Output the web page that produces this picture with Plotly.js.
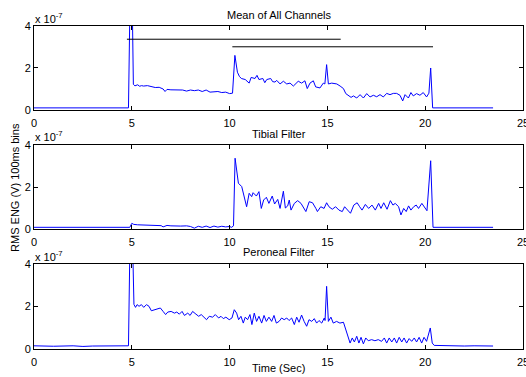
<!DOCTYPE html>
<html>
<head>
<meta charset="utf-8">
<script src="https://cdn.plot.ly/plotly-3.0.1.min.js"></script>
<style>html,body{margin:0;padding:0;background:#fff;}#chart{width:526px;height:377px;}</style>
</head>
<body>
<div id="chart"></div>
<script>
// Values in units of 1e-7 V (axis shows "x 10^-7")
var xTicks = [0, 5, 10, 15, 20, 25];
var yTicks = [0, 2, 4];

var tMean = [0, 4.83, 4.9, 4.95, 5.03, 5.08, 5.16, 5.3, 5.4, 5.5, 5.6, 5.8, 6.0, 6.2, 6.4, 6.5, 6.6, 6.7, 6.8, 7.0, 7.2, 7.4, 7.6, 7.8, 8.0, 8.2, 8.4, 8.6, 8.8, 9.0, 9.2, 9.4, 9.6, 9.8, 10.0, 10.15, 10.27, 10.4, 10.5, 10.6, 10.8, 10.9, 11.0, 11.1, 11.3, 11.4, 11.5, 11.7, 11.8, 11.9, 12.1, 12.2, 12.32, 12.41, 12.58, 12.75, 12.92, 13.09, 13.26, 13.51, 13.68, 13.85, 13.97, 14.11, 14.28, 14.4, 14.62, 14.79, 14.87, 14.96, 15.05, 15.22, 15.48, 15.65, 15.82, 15.94, 16.08, 16.21, 16.33, 16.5, 16.67, 16.84, 17.01, 17.18, 17.35, 17.52, 17.69, 17.86, 18.03, 18.2, 18.37, 18.54, 18.71, 18.85, 18.97, 19.14, 19.27, 19.39, 19.56, 19.73, 19.9, 20.07, 20.19, 20.28, 20.38, 23.47];
var vMean = [0.1, 0.1, 4.6, 4.6, 4.6, 1.22, 1.15, 1.2, 1.13, 1.16, 1.14, 1.16, 1.1, 1.07, 1.08, 1.05, 1.0, 0.88, 0.98, 0.96, 0.95, 0.93, 0.95, 0.9, 0.95, 0.92, 0.95, 0.88, 0.95, 0.85, 0.85, 0.88, 0.83, 0.85, 0.78, 0.8, 2.6, 1.8, 1.6, 1.5, 1.45, 1.35, 1.28, 1.55, 1.5, 1.65, 1.45, 1.5, 1.3, 1.45, 1.5, 1.35, 1.33, 1.41, 1.24, 1.37, 1.24, 1.28, 1.14, 1.37, 1.28, 1.39, 1.02, 1.28, 1.39, 1.1, 1.05, 1.28, 1.24, 2.16, 1.24, 1.28, 1.24, 1.14, 1.02, 0.78, 0.7, 0.6, 0.67, 0.57, 0.73, 0.57, 0.78, 0.62, 0.70, 0.63, 0.73, 0.62, 0.79, 0.73, 0.79, 0.79, 0.70, 0.43, 0.73, 0.57, 0.83, 0.67, 0.78, 0.70, 0.83, 0.62, 0.8, 2.0, 0.1, 0.1];

var tTibial = [0, 4.9, 5.0, 5.1, 5.3, 5.6, 6.0, 6.3, 6.5, 6.6, 6.8, 7.0, 7.2, 7.5, 7.8, 8.0, 8.2, 8.4, 8.6, 8.8, 9.0, 9.2, 9.4, 9.6, 9.8, 10.0, 10.1, 10.2, 10.28, 10.36, 10.45, 10.62, 10.74, 10.87, 11.0, 11.13, 11.2, 11.37, 11.5, 11.62, 11.74, 11.88, 12.01, 12.18, 12.3, 12.46, 12.58, 12.65, 12.75, 12.85, 12.97, 13.05, 13.14, 13.31, 13.48, 13.65, 13.9, 14.07, 14.24, 14.41, 14.49, 14.66, 14.83, 14.96, 15.08, 15.25, 15.42, 15.59, 15.76, 15.88, 16.01, 16.18, 16.35, 16.52, 16.65, 16.77, 16.94, 17.11, 17.28, 17.45, 17.62, 17.74, 17.88, 18.05, 18.22, 18.35, 18.47, 18.64, 18.76, 18.9, 19.03, 19.15, 19.27, 19.41, 19.54, 19.66, 19.83, 19.95, 20.09, 20.28, 20.4, 23.47];
var vTibial = [0.08, 0.08, 0.27, 0.22, 0.2, 0.19, 0.18, 0.17, 0.16, 0.1, 0.17, 0.15, 0.16, 0.14, 0.15, 0.12, 0.04, 0.13, 0.08, 0.14, 0.07, 0.14, 0.09, 0.13, 0.1, 0.12, 0.08, 0.15, 3.37, 2.65, 2.18, 2.02, 1.62, 1.06, 1.7, 1.54, 1.73, 1.57, 1.78, 0.98, 1.38, 1.51, 1.22, 1.57, 1.19, 1.41, 0.98, 1.3, 1.8, 1.0, 1.1, 1.38, 0.9, 1.22, 1.35, 1.22, 0.83, 1.3, 1.25, 0.98, 0.83, 1.06, 0.98, 1.25, 1.06, 0.94, 1.06, 0.90, 0.83, 1.06, 0.94, 0.75, 1.14, 1.25, 1.06, 0.90, 1.17, 0.98, 1.14, 0.90, 1.22, 0.98, 1.25, 0.94, 1.35, 1.14, 1.22, 1.06, 0.67, 0.98, 0.83, 1.10, 0.90, 1.06, 1.14, 0.98, 1.22, 1.06, 0.87, 3.25, 0.08, 0.08];

var tPeroneal = [0, 1.0, 2.0, 2.5, 3.0, 4.0, 4.83, 4.9, 5.05, 5.11, 5.19, 5.27, 5.37, 5.49, 5.61, 5.75, 5.88, 6.0, 6.17, 6.34, 6.46, 6.6, 6.73, 6.84, 7.01, 7.18, 7.3, 7.43, 7.57, 7.69, 7.86, 7.98, 8.11, 8.28, 8.42, 8.55, 8.7, 8.82, 8.96, 9.13, 9.27, 9.44, 9.56, 9.68, 9.81, 9.98, 10.12, 10.24, 10.36, 10.46, 10.58, 10.7, 10.8, 10.92, 11.04, 11.14, 11.26, 11.38, 11.5, 11.64, 11.76, 11.88, 12.01, 12.15, 12.27, 12.39, 12.53, 12.66, 12.79, 12.92, 13.04, 13.17, 13.31, 13.43, 13.55, 13.68, 13.81, 13.94, 14.06, 14.2, 14.33, 14.45, 14.57, 14.71, 14.84, 14.88, 14.96, 15.05, 15.18, 15.3, 15.47, 15.64, 15.82, 15.94, 16.07, 16.16, 16.27, 16.38, 16.5, 16.61, 16.72, 16.84, 16.96, 17.09, 17.26, 17.43, 17.6, 17.77, 17.91, 18.03, 18.16, 18.29, 18.42, 18.54, 18.67, 18.8, 18.92, 19.05, 19.18, 19.31, 19.44, 19.56, 19.69, 19.82, 19.94, 20.07, 20.26, 20.36, 20.46, 21.0, 21.5, 22.0, 22.5, 23.0, 23.47];
var vPeroneal = [0.15, 0.13, 0.15, 0.12, 0.14, 0.13, 0.15, 4.6, 4.6, 2.1, 1.96, 2.09, 2.01, 2.09, 1.96, 2.09, 2.01, 1.8, 1.85, 1.9, 1.93, 1.77, 1.62, 1.74, 1.77, 1.69, 1.74, 1.64, 1.77, 1.58, 1.69, 1.58, 1.77, 1.64, 1.54, 1.62, 1.46, 1.38, 1.54, 1.5, 1.62, 1.46, 1.54, 1.43, 1.5, 1.38, 1.46, 1.85, 1.69, 1.38, 1.54, 1.22, 1.5, 1.38, 1.62, 1.15, 1.69, 1.30, 1.54, 1.22, 1.58, 1.30, 1.5, 1.30, 1.58, 1.22, 1.30, 1.46, 1.38, 1.46, 1.34, 1.46, 1.15, 1.5, 1.26, 1.6, 1.30, 1.07, 1.38, 1.30, 1.43, 1.22, 1.34, 1.22, 1.46, 1.34, 2.95, 1.30, 1.5, 1.22, 1.30, 1.22, 1.26, 0.91, 0.52, 0.28, 0.52, 0.33, 0.60, 0.28, 0.55, 0.24, 0.52, 0.39, 0.44, 0.39, 0.44, 0.36, 0.52, 0.28, 0.52, 0.33, 0.52, 0.28, 0.55, 0.33, 0.52, 0.28, 0.49, 0.36, 0.52, 0.33, 0.55, 0.28, 0.55, 0.36, 0.99, 0.28, 0.17, 0.15, 0.16, 0.14, 0.15, 0.13, 0.14];

// Horizontal reference bars in the top panel
var bar1T = [4.75, 15.68], bar1V = [3.37, 3.37];
var bar2T = [10.14, 20.4], bar2V = [3.01, 3.01];

var titles = ["Mean of All Channels", "Tibial Filter", "Peroneal Filter"];
var yLabel = "RMS ENG (V) 100ms bins";
var xLabel = "Time (Sec)";
var scaleText = "x 10<sup>-7</sup>";

var FONT = "Liberation Sans, Arial, Helvetica, sans-serif";
var blue = "rgb(0,0,255)";

var traces = [
  {x: tMean, y: vMean, xaxis: "x", yaxis: "y", mode: "lines", line: {color: blue, width: 1}},
  {x: bar1T, y: bar1V, xaxis: "x", yaxis: "y", mode: "lines", line: {color: "#000", width: 1}},
  {x: bar2T, y: bar2V, xaxis: "x", yaxis: "y", mode: "lines", line: {color: "#000", width: 1}},
  {x: tTibial, y: vTibial, xaxis: "x2", yaxis: "y2", mode: "lines", line: {color: blue, width: 1}},
  {x: tPeroneal, y: vPeroneal, xaxis: "x3", yaxis: "y3", mode: "lines", line: {color: blue, width: 1}}
];

function xax(anchor) {
  return {anchor: anchor, domain: [0, 1], range: [0, 25], tickvals: xTicks, ticktext: xTicks.map(String),
    ticks: "inside", ticklen: 4, tickcolor: "#000", showline: true, linecolor: "#000", linewidth: 1,
    mirror: "ticks", showgrid: false, zeroline: false, ticklabeloverflow: "allow", ticklabelstandoff: 3,
    tickfont: {family: FONT, size: 11, color: "#000"}, fixedrange: true};
}
function yax(anchor, dom) {
  return {anchor: anchor, domain: dom, range: [0, 4], tickvals: yTicks, ticktext: yTicks.map(String),
    ticks: "inside", ticklen: 4, tickcolor: "#000", showline: true, linecolor: "#000", linewidth: 1,
    mirror: "ticks", showgrid: false, zeroline: false, ticklabeloverflow: "allow",
    tickfont: {family: FONT, size: 11, color: "#000"}, fixedrange: true};
}

var titleY = [1.034, 0.6656, 0.3003];
var scaleY = [1.0, 0.636, 0.264];
var annotations = [];
for (var i = 0; i < 3; i++) {
  annotations.push({text: titles[i], xref: "paper", yref: "paper", x: 0.5, y: titleY[i], xanchor: "center", yanchor: "middle",
    showarrow: false, font: {family: FONT, size: 11, color: "#000"}});
  annotations.push({text: scaleText, xref: "paper", yref: "paper", x: 0, y: scaleY[i], xanchor: "left", yanchor: "bottom",
    showarrow: false, font: {family: FONT, size: 11, color: "#000"}, borderpad: 0});
}
annotations.push({text: yLabel, xref: "paper", yref: "paper", x: -0.04, y: 0.5, xanchor: "center", yanchor: "middle",
  textangle: -90, showarrow: false, font: {family: FONT, size: 11, color: "#000"}});
annotations.push({text: xLabel, xref: "paper", yref: "paper", x: 0.5, y: -0.059, xanchor: "center", yanchor: "middle",
  showarrow: false, font: {family: FONT, size: 11, color: "#000"}});

var layout = {
  width: 526, height: 377,
  margin: {l: 34, r: 3, t: 26, b: 28, pad: 0},
  paper_bgcolor: "#fff", plot_bgcolor: "#fff",
  showlegend: false,
  font: {family: FONT, size: 11, color: "#000"},
  xaxis: xax("y"), yaxis: yax("x", [0.740, 1]),
  xaxis2: xax("y2"), yaxis2: yax("x2", [0.3715, 0.6316]),
  xaxis3: xax("y3"), yaxis3: yax("x3", [0, 0.263]),
  annotations: annotations
};

Plotly.newPlot("chart", traces, layout, {displayModeBar: false, staticPlot: true});
</script>
</body>
</html>
